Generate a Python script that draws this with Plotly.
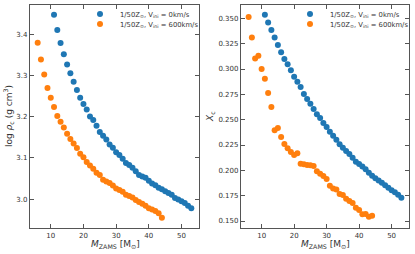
import plotly.graph_objects as go

# ---- data ----
mass_v0 = list(range(11, 54))
logrho_v0 = [3.448, 3.411, 3.379, 3.352, 3.327, 3.306, 3.285, 3.265, 3.246, 3.231,
             3.218, 3.201, 3.192, 3.178, 3.163, 3.154, 3.145, 3.133, 3.125, 3.114,
             3.107, 3.098, 3.088, 3.083, 3.076, 3.068, 3.059, 3.055, 3.052, 3.045,
             3.038, 3.034, 3.028, 3.024, 3.019, 3.015, 3.011, 3.003, 2.999, 2.995,
             2.991, 2.984, 2.978]
xc_v0 = [0.3536, 0.346, 0.3385, 0.331, 0.3237, 0.3166, 0.310, 0.3046, 0.2987, 0.2924,
         0.2875, 0.2822, 0.2753, 0.2704, 0.2658, 0.2605, 0.2553, 0.2516, 0.2467, 0.2428,
         0.2382, 0.2342, 0.2303, 0.2257, 0.2224, 0.2191, 0.2161, 0.2125, 0.2086, 0.2063,
         0.2039, 0.201, 0.1977, 0.1947, 0.1921, 0.1901, 0.1878, 0.1852, 0.1829, 0.1803,
         0.1783, 0.176, 0.173]

mass_v600 = list(range(6, 45))
logrho_v600 = [3.380, 3.339, 3.303, 3.270, 3.246, 3.224, 3.202, 3.188, 3.174, 3.159,
               3.146, 3.135, 3.124, 3.110, 3.102, 3.090, 3.082, 3.074, 3.064, 3.059,
               3.047, 3.043, 3.039, 3.033, 3.026, 3.022, 3.018, 3.011, 3.008, 3.004,
               2.998, 2.993, 2.989, 2.984, 2.978, 2.975, 2.971, 2.966, 2.955]
xc_v600 = [0.3513, 0.331, 0.3105, 0.3132, 0.300, 0.2905, 0.2763, 0.2625, 0.2395, 0.2418,
           0.2329, 0.226, 0.2217, 0.2181, 0.2151, 0.2168, 0.2066, 0.206, 0.2053, 0.205,
           0.2043, 0.199, 0.1967, 0.1944, 0.1914, 0.1849, 0.1822, 0.1812, 0.1766, 0.1757,
           0.172, 0.1697, 0.1678, 0.1632, 0.1609, 0.1566, 0.1569, 0.1543, 0.1553]

label_v0 = "1/50Z<sub>⊙</sub>, V<sub>ini</sub> = 0km/s"
label_v600 = "1/50Z<sub>⊙</sub>, V<sub>ini</sub> = 600km/s"

BLUE = "#1f77b4"
ORANGE = "#ff7f0e"
FONT = "DejaVu Sans"

fig = go.Figure()
ms = 6
fig.add_trace(go.Scatter(x=mass_v0, y=logrho_v0, mode="markers", name=label_v0,
                         marker=dict(color=BLUE, size=ms), xaxis="x", yaxis="y", legend="legend"))
fig.add_trace(go.Scatter(x=mass_v600, y=logrho_v600, mode="markers", name=label_v600,
                         marker=dict(color=ORANGE, size=ms), xaxis="x", yaxis="y", legend="legend2"))
fig.add_trace(go.Scatter(x=mass_v0, y=xc_v0, mode="markers", name=label_v0,
                         marker=dict(color=BLUE, size=ms), xaxis="x2", yaxis="y2", legend="legend3"))
fig.add_trace(go.Scatter(x=mass_v600, y=xc_v600, mode="markers", name=label_v600,
                         marker=dict(color=ORANGE, size=ms), xaxis="x2", yaxis="y2", legend="legend4"))

W, H = 415, 254
xd1 = [30 / W, 199 / W]
xd2 = [241 / W, 409 / W]
yd = [1 - 228 / H, 1 - 5 / H]

axis_common = dict(showline=True, linecolor="#555555", linewidth=1.3, mirror="ticks",
                   ticks="inside", ticklen=3.5, tickwidth=1, tickcolor="#555555",
                   showgrid=False, zeroline=False, automargin=False,
                   tickfont=dict(family=FONT, size=7, color="#333333"))


def leg(xpx, ypx):
    return dict(x=xpx / W, y=1 - ypx / H, xanchor="left", yanchor="middle",
                bgcolor="rgba(0,0,0,0)", font=dict(family=FONT, size=6.8, color="#333333"),
                itemwidth=30, tracegroupgap=0)


fig.update_layout(
    width=W, height=H, margin=dict(l=0, r=0, t=0, b=0, autoexpand=False),
    paper_bgcolor="white", plot_bgcolor="white", showlegend=True,
    font=dict(family=FONT, color="#333333"),
    xaxis=dict(domain=xd1, range=[3.65, 55.35], dtick=10, anchor="y", **axis_common),
    yaxis=dict(domain=yd, range=[2.930, 3.4715], dtick=0.1, tickformat=".1f", anchor="x", **axis_common),
    xaxis2=dict(domain=xd2, range=[3.65, 55.35], dtick=10, anchor="y2", **axis_common),
    yaxis2=dict(domain=yd, range=[0.1431, 0.3632], dtick=0.025, tickformat=".3f", anchor="x2", **axis_common),
    legend=leg(80, 14),
    legend2=leg(80, 24),
    legend3=leg(290, 14),
    legend4=leg(290, 24),
    annotations=[
        dict(text="log <i>ρ</i><sub>c</sub> (g cm<sup>3</sup>)", x=8 / W, y=1 - 116 / H,
             xref="paper", yref="paper", showarrow=False, textangle=-90,
             xanchor="center", yanchor="middle",
             font=dict(family=FONT, size=9, color="#333333")),
        dict(text="<i>M</i><sub>ZAMS</sub> [M<sub>⊙</sub>]", x=115 / W, y=1 - 244 / H,
             xref="paper", yref="paper", showarrow=False, xanchor="center", yanchor="middle",
             font=dict(family=FONT, size=9, color="#333333")),
        dict(text="<i>X</i><sub>c</sub>", x=210 / W, y=1 - 116 / H,
             xref="paper", yref="paper", showarrow=False, textangle=-90,
             xanchor="center", yanchor="middle",
             font=dict(family=FONT, size=9, color="#333333")),
        dict(text="<i>M</i><sub>ZAMS</sub> [M<sub>⊙</sub>]", x=325 / W, y=1 - 244 / H,
             xref="paper", yref="paper", showarrow=False, xanchor="center", yanchor="middle",
             font=dict(family=FONT, size=9, color="#333333")),
    ],
)

fig.write_html("out.html", config={"displayModeBar": False},
               post_script="document.body.style.margin='0';")
